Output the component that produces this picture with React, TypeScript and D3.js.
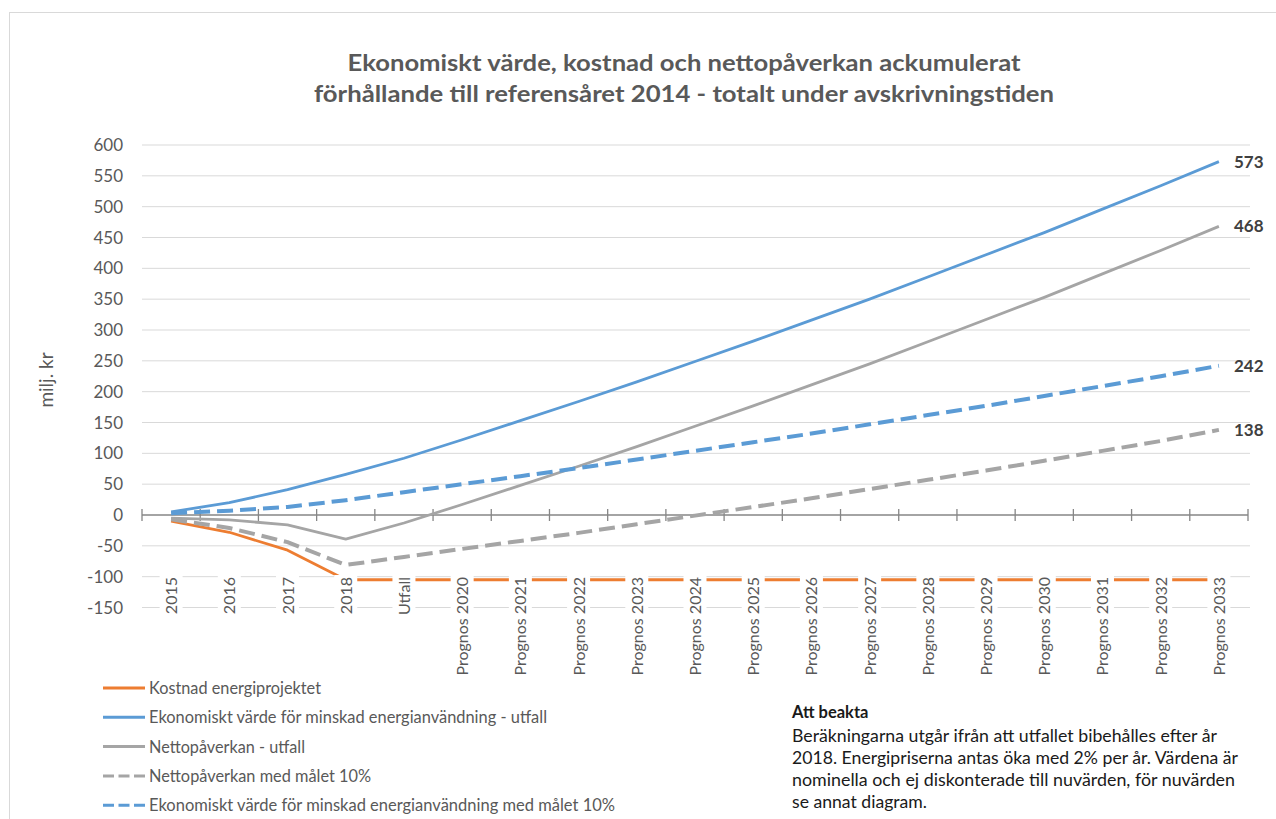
import React from "react";
import * as d3 from "d3";

const categories = [
  "2015", "2016", "2017", "2018", "Utfall",
  "Prognos 2020", "Prognos 2021", "Prognos 2022", "Prognos 2023", "Prognos 2024",
  "Prognos 2025", "Prognos 2026", "Prognos 2027", "Prognos 2028", "Prognos 2029",
  "Prognos 2030", "Prognos 2031", "Prognos 2032", "Prognos 2033",
];

const kostnad = [-10, -28, -57, -105, -105, -105, -105, -105, -105, -105, -105, -105, -105, -105, -105, -105, -105, -105, -105];
const vardeUtfall = [5, 20, 41, 66, 92, 122, 153, 184, 216, 249, 282, 316, 350, 386, 422, 458, 496, 534, 573];
const nettoUtfall = [-5, -8, -16, -39, -13, 17, 48, 79, 111, 144, 177, 211, 245, 281, 317, 353, 391, 429, 468];
const nettoMal = [-7, -21, -44, -81, -68, -55, -42, -29, -15, -1, 13, 27, 42, 57, 72, 88, 104, 120, 138];
const vardeMal = [3, 7, 13, 24, 37, 50, 63, 76, 90, 104, 118, 132, 147, 162, 177, 193, 209, 225, 242];

const yTicks = [-150, -100, -50, 0, 50, 100, 150, 200, 250, 300, 350, 400, 450, 500, 550, 600];

const titleLines = [
  "Ekonomiskt värde, kostnad och nettopåverkan ackumulerat",
  "förhållande till referensåret 2014 - totalt under avskrivningstiden",
];
const yAxisTitle = "milj. kr";
const noteTitle = "Att beakta";
const noteLines = [
  "Beräkningarna utgår ifrån att utfallet bibehålles efter år",
  "2018. Energipriserna antas öka med 2% per år. Värdena är",
  "nominella och ej diskonterade till nuvärden, för nuvärden",
  "se annat diagram.",
];

const ORANGE = "#ED7D31";
const BLUE = "#5B9BD5";
const GREY = "#A5A5A5";

type Series = {
  name: string;
  values: number[];
  color: string;
  dashed: boolean;
  endLabel: boolean;
};

const series: Series[] = [
  { name: "Kostnad energiprojektet", values: kostnad, color: ORANGE, dashed: false, endLabel: false },
  { name: "Ekonomiskt värde för minskad energianvändning - utfall", values: vardeUtfall, color: BLUE, dashed: false, endLabel: true },
  { name: "Nettopåverkan - utfall", values: nettoUtfall, color: GREY, dashed: false, endLabel: true },
  { name: "Nettopåverkan med målet 10%", values: nettoMal, color: GREY, dashed: true, endLabel: true },
  { name: "Ekonomiskt värde för minskad energianvändning med målet 10%", values: vardeMal, color: BLUE, dashed: true, endLabel: true },
];

const legendWidths = [172, 398, 156, 222, 466];
const noteWidths = [425, 446, 443, 135];

const FONT = "Lato, 'Liberation Sans', sans-serif";
const TEXT = "#595959";

export default function App() {
  const W = 1276;
  const H = 819;
  const x = d3.scaleBand<string>().domain(categories).range([142, 1248]).padding(0);
  const y = d3.scaleLinear().domain([-150, 600]).range([607.5, 145]);
  const bw = x.bandwidth();
  const cx = (c: string) => (x(c) as number) + bw / 2;

  const line = d3
    .line<number>()
    .x((_, i) => cx(categories[i]))
    .y((v) => y(v));

  const boundaries = d3.range(categories.length + 1).map((i) => 142 + i * bw);

  return (
    <svg
      width={W}
      height={H}
      style={{ position: "absolute", left: 0, top: 0, background: "#fff" }}
      fontFamily={FONT}
    >
      <rect x={0} y={0} width={W} height={H} fill="#fff" />
      <rect x={9.5} y={12.5} width={1290} height={830} fill="none" stroke="#D9D9D9" strokeWidth={1} />

      {/* title */}
      {titleLines.map((t, i) => (
        <text
          key={i}
          x={684}
          y={71 + i * 31}
          textAnchor="middle"
          fontSize={23}
          fontWeight="bold"
          fill={TEXT}
          textLength={i === 0 ? 673 : 740}
          lengthAdjust="spacingAndGlyphs"
        >
          {t}
        </text>
      ))}

      {/* gridlines */}
      {yTicks
        .filter((t) => t !== 0)
        .map((t) => (
          <line key={t} x1={142} x2={1250} y1={y(t)} y2={y(t)} stroke="#D9D9D9" strokeWidth={1} />
        ))}

      {/* y tick labels */}
      {yTicks.map((t) => (
        <text key={t} x={123} y={y(t) + 6} textAnchor="end" fontSize={17} fill={TEXT}>
          {t}
        </text>
      ))}

      {/* y axis title */}
      <text
        transform={`translate(53, 380) rotate(-90)`}
        textAnchor="middle"
        fontSize={19}
        fill={TEXT}
      >
        {yAxisTitle}
      </text>

      {/* zero axis */}
      <line x1={142} x2={1248} y1={y(0)} y2={y(0)} stroke="#868686" strokeWidth={1.3} />
      {boundaries.map((b, i) => (
        <line key={i} x1={b} x2={b} y1={y(0) - 6} y2={y(0) + 6} stroke="#868686" strokeWidth={1.3} />
      ))}

      {/* series */}
      {series.map((s, i) => (
        <path
          key={i}
          d={line(s.values) || ""}
          fill="none"
          stroke={s.color}
          strokeWidth={s.dashed ? 4 : 2.8}
          strokeDasharray={s.dashed ? "16 7" : undefined}
          strokeLinejoin="round"
        />
      ))}

      {/* category labels with white background */}
      {categories.map((c) => (
        <g key={c}>
          <rect x={cx(c) - 11.5} y={575} width={23} height={c.length * 8.6 + 4} fill="#fff" />
          <text
            transform={`translate(${cx(c) + 6}, 577) rotate(-90)`}
            textAnchor="end"
            fontSize={16}
            fill={TEXT}
          >
            {c}
          </text>
        </g>
      ))}

      {/* end labels */}
      {series
        .filter((s) => s.endLabel)
        .map((s, i) => {
          const v = s.values[s.values.length - 1];
          return (
            <text key={i} x={1234} y={y(v) + 6} fontSize={17} fontWeight="bold" fill="#404040">
              {v}
            </text>
          );
        })}

      {/* legend */}
      {series.map((s, i) => {
        const ly = 688 + i * 29.3;
        return (
          <g key={i}>
            <line
              x1={103}
              x2={145}
              y1={ly}
              y2={ly}
              stroke={s.color}
              strokeWidth={3}
              strokeDasharray={s.dashed ? "11 4.5" : undefined}
            />
            <text
              x={149}
              y={ly + 6}
              fontSize={16.5}
              fill={TEXT}
              textLength={legendWidths[i]}
              lengthAdjust="spacingAndGlyphs"
            >
              {s.name}
            </text>
          </g>
        );
      })}

      {/* note */}
      <text x={792} y={718} fontSize={16.5} fontWeight="bold" fill="#1a1a1a">
        {noteTitle}
      </text>
      {noteLines.map((t, i) => (
        <text
          key={i}
          x={792}
          y={742 + i * 22}
          fontSize={16.5}
          fill="#1a1a1a"
          textLength={noteWidths[i]}
          lengthAdjust="spacingAndGlyphs"
        >
          {t}
        </text>
      ))}
    </svg>
  );
}
